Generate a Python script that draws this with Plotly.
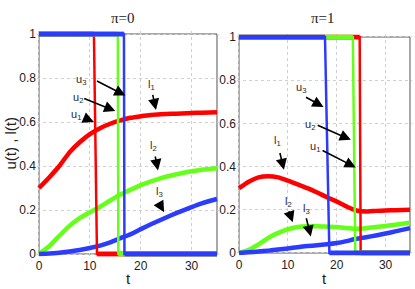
import plotly.graph_objects as go

# ---------------- data ----------------
t_grid = [0, 2, 4, 6, 8, 10, 12, 14, 16, 18, 20, 22, 24, 26, 28, 30, 32, 35]

# pi = 0 panel
l1_p0 = [0.30, 0.348, 0.40, 0.462, 0.508, 0.545, 0.572, 0.592, 0.607, 0.619, 0.626, 0.632, 0.635, 0.637, 0.639, 0.641, 0.642, 0.644]
l2_p0 = [0.0, 0.035, 0.083, 0.128, 0.163, 0.19, 0.215, 0.243, 0.27, 0.292, 0.313, 0.33, 0.345, 0.357, 0.367, 0.376, 0.383, 0.39]
l3_p0 = [0.0, 0.002, 0.006, 0.011, 0.018, 0.027, 0.038, 0.053, 0.072, 0.09, 0.113, 0.135, 0.156, 0.176, 0.195, 0.213, 0.23, 0.25]
u1_t_p0 = [0, 10.8, 11.4, 35]
u2_t_p0 = [0, 15.5, 15.6, 35]
u3_t_p0 = [0, 16.7, 16.8, 35]

# pi = 1 panel
l1_p1 = [0.30, 0.33, 0.35, 0.355, 0.35, 0.335, 0.318, 0.30, 0.28, 0.258, 0.238, 0.215, 0.197, 0.192, 0.195, 0.197, 0.198, 0.20]
l2_p1 = [0.0, 0.015, 0.04, 0.07, 0.093, 0.11, 0.12, 0.124, 0.124, 0.122, 0.12, 0.116, 0.112, 0.115, 0.12, 0.125, 0.131, 0.14]
l3_p1 = [0.0, 0.003, 0.007, 0.011, 0.016, 0.021, 0.027, 0.032, 0.036, 0.04, 0.046, 0.055, 0.066, 0.073, 0.081, 0.09, 0.10, 0.115]
u1_t_p1 = [0, 24.7, 24.9, 35]
u2_t_p1 = [0, 23.3, 23.8, 35]
u3_t_p1 = [0, 17.6, 18.5, 35]

u_levels = [1, 1, 0, 0]

x_ticks = [0, 10, 20, 30]
y_ticks = [0, 0.2, 0.4, 0.6, 0.8, 1]
y_ticklabels = ["0", "0.2", "0.4", "0.6", "0.8", "1"]

# annotations: (label, label_t, label_v, tail_t, tail_v, head_t, head_v)
ann_p0 = [
    ("u<sub>3</sub>", 8.3, 0.79, 11.1, 0.79, 17.0, 0.72),
    ("u<sub>2</sub>", 7.6, 0.71, 8.6, 0.71, 15.0, 0.65),
    ("u<sub>1</sub>", 7.3, 0.63, 8.8, 0.62, 10.8, 0.60),
    ("l<sub>1</sub>", 22.1, 0.77, 22.3, 0.73, 23.0, 0.655),
    ("l<sub>2</sub>", 22.6, 0.49, 22.8, 0.45, 23.4, 0.38),
    ("l<sub>3</sub>", 23.6, 0.28, 23.6, 0.23, 24.6, 0.19),
]
ann_p1 = [
    ("u<sub>3</sub>", 12.6, 0.766, 13.4, 0.725, 17.3, 0.676),
    ("u<sub>2</sub>", 14.6, 0.594, 15.8, 0.594, 22.9, 0.524),
    ("u<sub>1</sub>", 15.6, 0.49, 16.8, 0.478, 23.9, 0.396),
    ("l<sub>1</sub>", 7.9, 0.52, 8.3, 0.47, 9.2, 0.385),
    ("l<sub>2</sub>", 10.1, 0.237, 10.1, 0.20, 11.0, 0.142),
    ("l<sub>3</sub>", 13.8, 0.204, 13.7, 0.168, 14.7, 0.076),
]

RED = "#ff0000"
GREEN = "#66ff1a"
BLUE = "#2b3bff"

W, H = 415, 289


def px_x(p):
    return p / W


def px_y(p):
    return (H - p) / H


fig = go.Figure()


def add_panel(xa, ya, l_list, u_list):
    for vals, col in l_list:
        fig.add_trace(go.Scatter(x=t_grid, y=vals, mode="lines", xaxis=xa, yaxis=ya,
                                 line=dict(color=col, width=4.5, shape="spline", smoothing=0.6),
                                 showlegend=False, hoverinfo="skip"))
    for tt, col in u_list:
        fig.add_trace(go.Scatter(x=tt, y=u_levels, mode="lines", xaxis=xa, yaxis=ya,
                                 line=dict(color=col, width=2.5),
                                 showlegend=False, hoverinfo="skip"))
        hx = [tt[0], tt[1], None, tt[2], tt[3]]
        hy = [u_levels[0], u_levels[1], None, u_levels[2], u_levels[3]]
        fig.add_trace(go.Scatter(x=hx, y=hy, mode="lines", xaxis=xa, yaxis=ya,
                                 line=dict(color=col, width=5),
                                 showlegend=False, hoverinfo="skip"))


add_panel("x", "y",
          [(l1_p0, RED), (l2_p0, GREEN), (l3_p0, BLUE)],
          [(u1_t_p0, RED), (u2_t_p0, GREEN), (u3_t_p0, BLUE)])
add_panel("x2", "y2",
          [(l1_p1, RED), (l2_p1, GREEN), (l3_p1, BLUE)],
          [(u1_t_p1, RED), (u2_t_p1, GREEN), (u3_t_p1, BLUE)])

annotations = []
for anns, xr, yr in [(ann_p0, "x", "y"), (ann_p1, "x2", "y2")]:
    for lab, lt, lv, tt, tv, ht, hv in anns:
        annotations.append(dict(x=ht, y=hv, ax=tt, ay=tv, xref=xr, yref=yr, axref=xr, ayref=yr,
                                text="", showarrow=True, arrowhead=2, arrowsize=1.4,
                                arrowwidth=1.6, arrowcolor="black"))
        annotations.append(dict(x=lt, y=lv, xref=xr, yref=yr, text=lab, showarrow=False,
                                xanchor="center", yanchor="middle",
                                font=dict(family="Liberation Sans, Arial", size=11, color="#2a2a2a")))

center = dict(xanchor="center", yanchor="middle", showarrow=False, xref="paper", yref="paper")
annotations += [
    dict(x=px_x(123), y=px_y(18), text="π=0",
         font=dict(family="Liberation Serif, Times New Roman", size=15, color="#222"), **center),
    dict(x=px_x(323), y=px_y(18), text="π=1",
         font=dict(family="Liberation Serif, Times New Roman", size=15, color="#222"), **center),
    dict(x=px_x(128), y=px_y(278), text="t",
         font=dict(family="Liberation Sans, Arial", size=15, color="#222"), **center),
    dict(x=px_x(324), y=px_y(278), text="t",
         font=dict(family="Liberation Sans, Arial", size=15, color="#222"), **center),
    dict(x=px_x(9.5), y=px_y(143), text="u(t) , l(t)", textangle=-90,
         font=dict(family="Liberation Sans, Arial", size=15, color="#222"), **center),
]

shapes = []
for xr, yr in [("x", "y"), ("x2", "y2")]:
    shapes.append(dict(type="rect", xref=xr, yref=yr, x0=0, x1=35, y0=0, y1=1,
                       line=dict(color="#555", width=1), layer="below"))

axis_common = dict(showline=False, zeroline=False, showgrid=True, gridcolor="#cfcfcf",
                   griddash="dot", gridwidth=1, ticks="", automargin=False,
                   tickfont=dict(family="Liberation Sans, Arial", size=12, color="#222"))

XR = [-0.4, 35.4]
YR = [-0.012, 1.012]


def xdom(p0, p35):
    s = (p35 - p0) / 35.0
    return [px_x(p0 + XR[0] * s), px_x(p0 + XR[1] * s)]


def ydom(p0, p1):
    s = (p0 - p1)
    return [px_y(p0 - YR[0] * s), px_y(p0 - YR[1] * s)]


fig.update_layout(
    width=W, height=H,
    margin=dict(l=0, r=0, t=0, b=0, autoexpand=False),
    paper_bgcolor="white", plot_bgcolor="white",
    xaxis=dict(domain=xdom(39, 217), range=XR, tickvals=x_ticks, anchor="y", **axis_common),
    yaxis=dict(domain=ydom(254, 34), range=YR, tickvals=y_ticks, ticktext=y_ticklabels,
               anchor="x", **axis_common),
    xaxis2=dict(domain=xdom(239, 410), range=XR, tickvals=x_ticks, anchor="y2", **axis_common),
    yaxis2=dict(domain=ydom(253, 37), range=YR, tickvals=y_ticks, ticktext=y_ticklabels,
                anchor="x2", **axis_common),
    annotations=annotations,
    shapes=shapes,
    showlegend=False,
)

fig.write_html("out.html", config={"displayModeBar": False},
               post_script="document.body.style.margin='0px';")
